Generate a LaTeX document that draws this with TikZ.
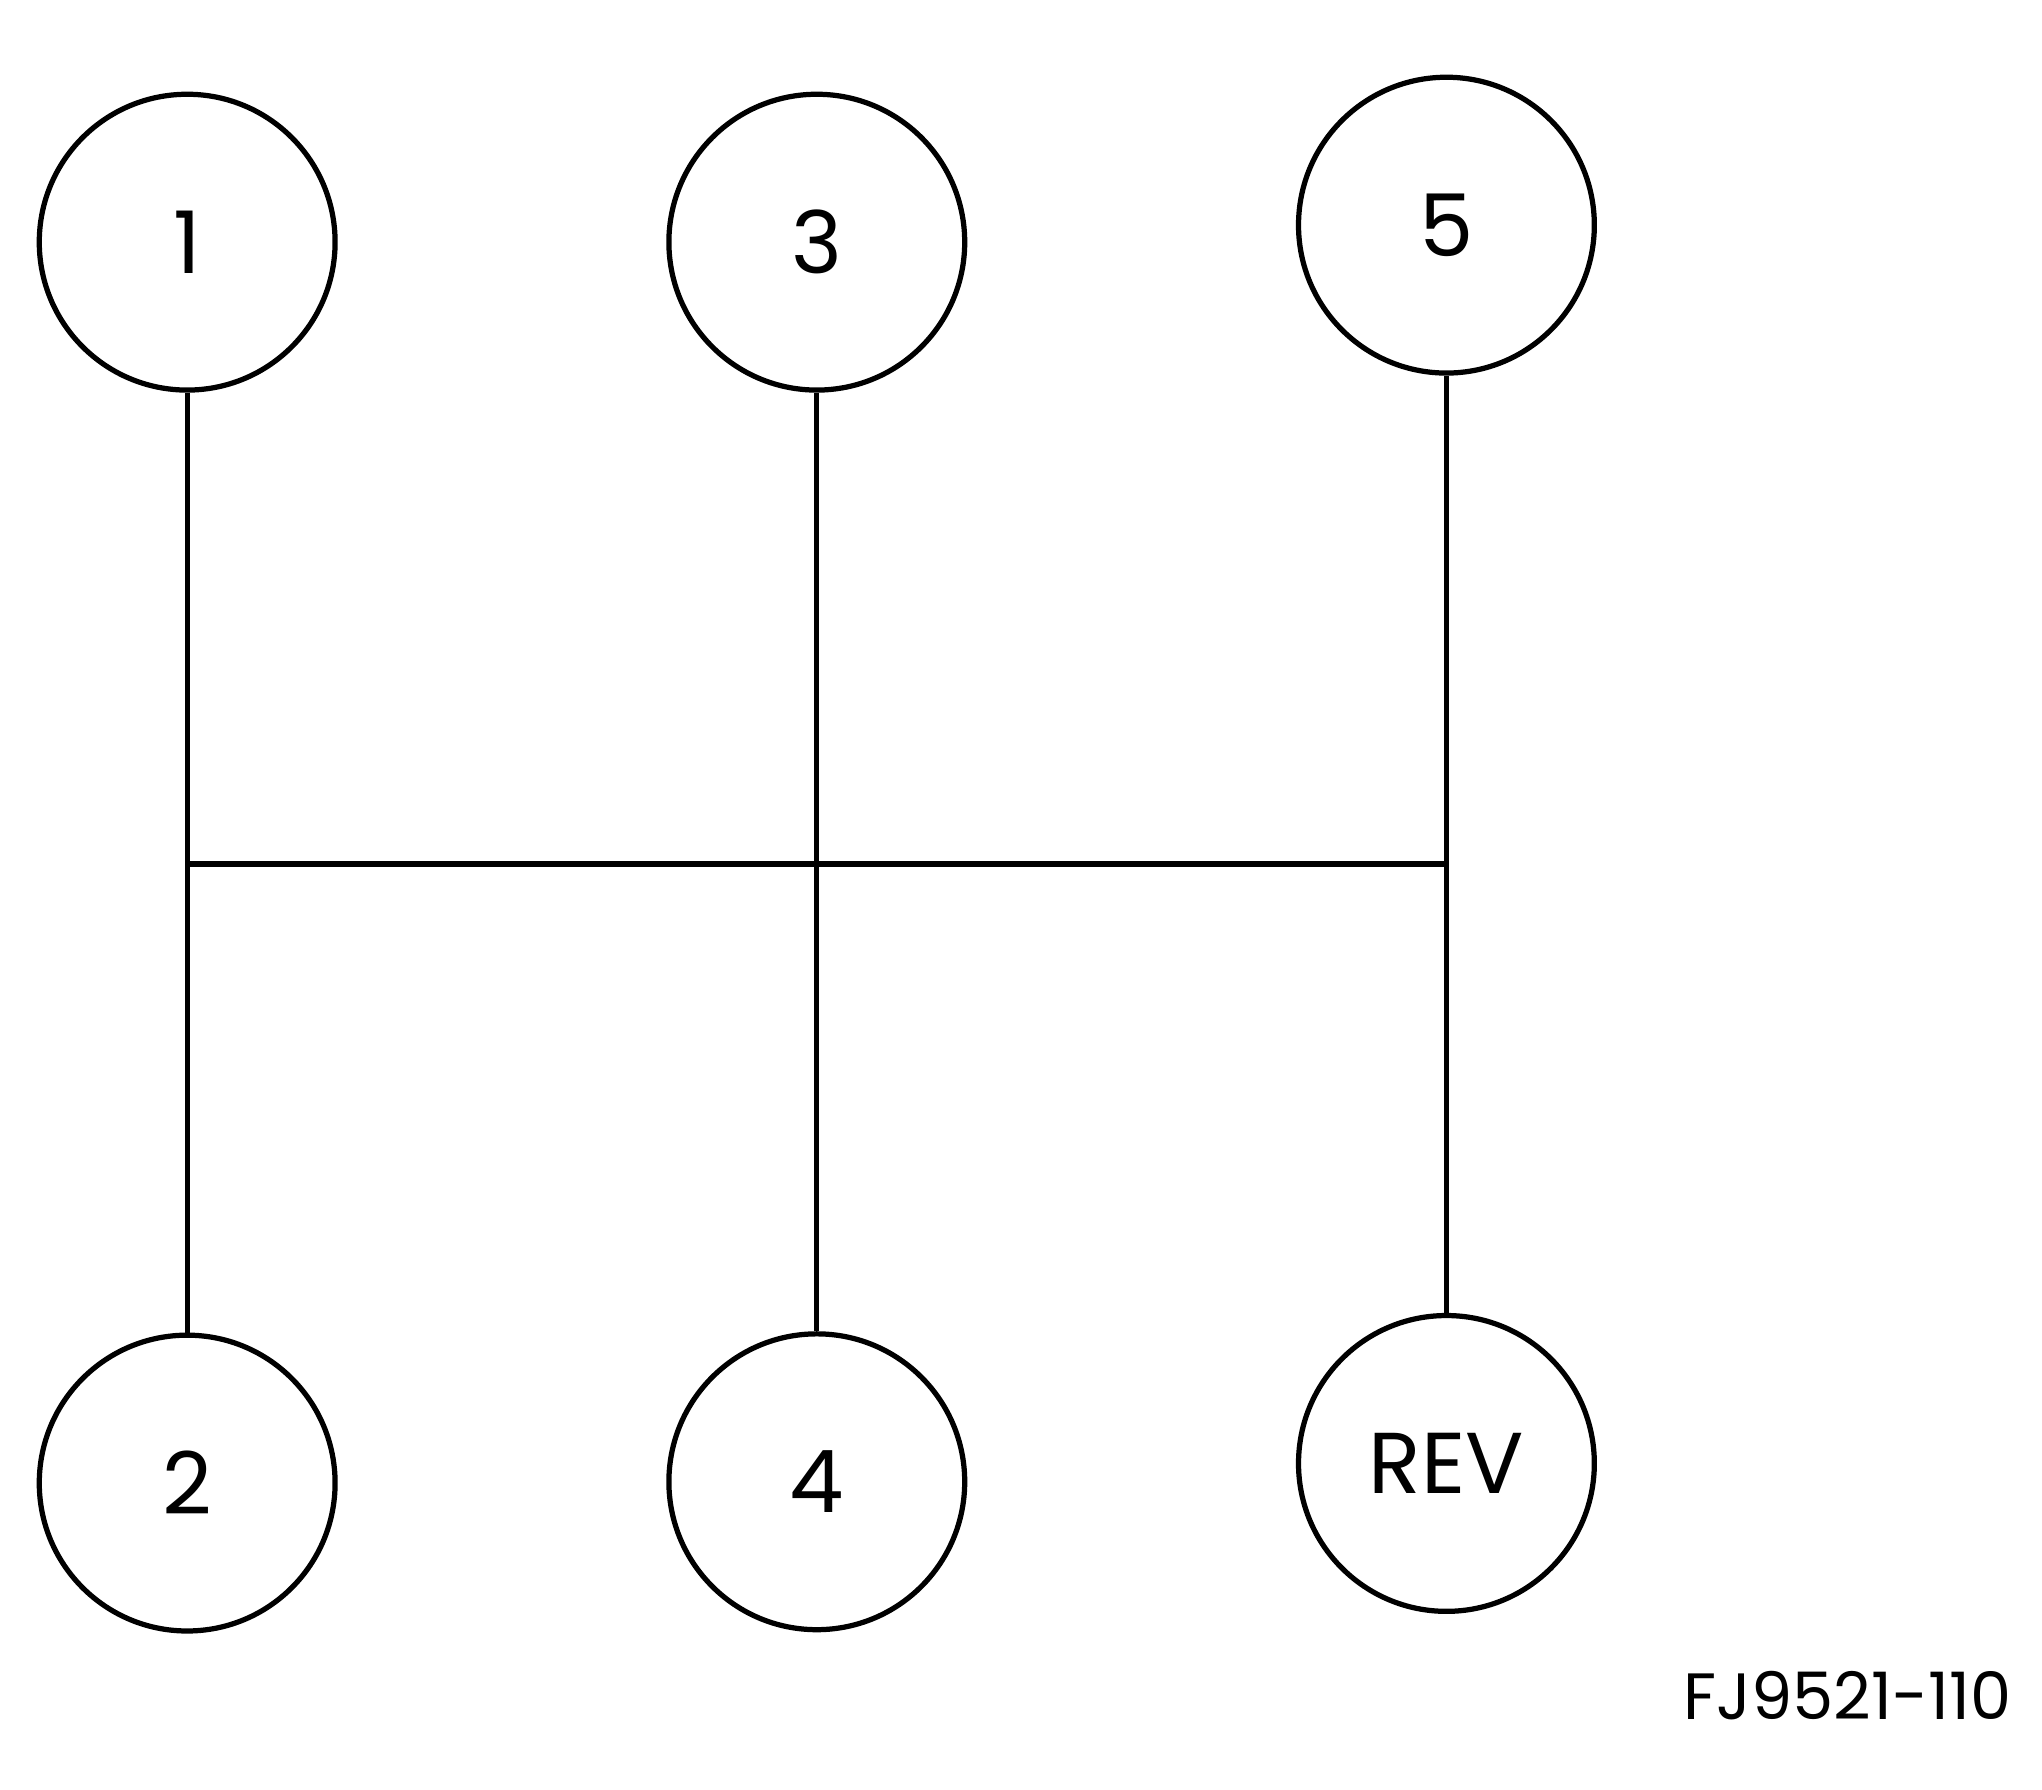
\documentclass[tikz,border=0pt]{standalone}
\usepackage{fontspec}
\setmainfont{Poppins}
\begin{document}
\begin{tikzpicture}[x=1pt,y=-1pt,line width=4pt,
  g/.style={circle,draw,minimum size=226pt,inner sep=0pt,font=\fontsize{66}{72}\selectfont},
  l/.style={line width=4pt}]
\useasboundingbox (0,0) rectangle (1560,1367);
\node[g] (n1) at (143,185) {1};
\node[g] (n3) at (624,185) {3};
\node[g] (n5) at (1105,172) {5};
\node[g] (n2) at (143,1133) {2};
\node[g] (n4) at (624,1132) {4};
\node[g] (nr) at (1105,1118) {REV};
\coordinate (hl) at (143,660);
\coordinate (hr) at (1105,660);
\draw[l] (n1.south) -- (n2.north);
\draw[l] (n3.south) -- (n4.north);
\draw[l] (n5.south) -- (nr.north);
\draw[l] (hl) -- (hr);
\node[anchor=east,font=\fontsize{50}{56}\selectfont] (lab) at (1542,1295) {FJ9521-110};
\end{tikzpicture}
\end{document}
